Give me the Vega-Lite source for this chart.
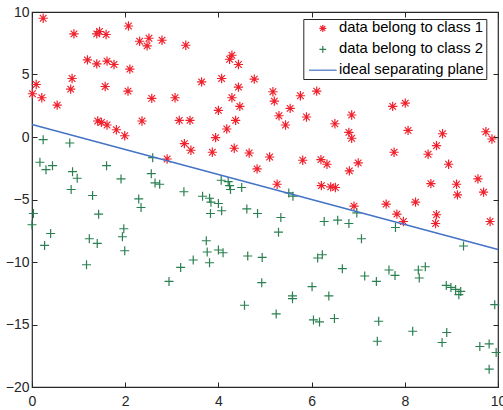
{
  "$schema": "https://vega.github.io/schema/vega-lite/v6.json",
  "width": 466,
  "height": 375,
  "autosize": "none",
  "padding": {"left": 32, "top": 12, "right": 5, "bottom": 23},
  "background": "white",
  "config": {
    "font": "Liberation Sans",
    "view": {"stroke": "#262626", "strokeWidth": 1.2},
    "axis": {
      "grid": false,
      "domain": false,
      "tickSize": -5,
      "tickColor": "#262626",
      "tickWidth": 1,
      "labelFontSize": 14,
      "labelColor": "#262626",
      "labelFont": "Liberation Sans",
      "title": null
    }
  },
  "datasets": {
    "pts": [
      {"x": 0.24, "y": 9.5, "series": "data belong to class 1"},
      {"x": 0.90, "y": 8.25, "series": "data belong to class 1"},
      {"x": 1.39, "y": 8.25, "series": "data belong to class 1"},
      {"x": 1.45, "y": 8.44, "series": "data belong to class 1"},
      {"x": 1.59, "y": 8.2, "series": "data belong to class 1"},
      {"x": 2.07, "y": 8.88, "series": "data belong to class 1"},
      {"x": 2.31, "y": 7.66, "series": "data belong to class 1"},
      {"x": 2.47, "y": 7.29, "series": "data belong to class 1"},
      {"x": 2.51, "y": 7.9, "series": "data belong to class 1"},
      {"x": 2.79, "y": 7.74, "series": "data belong to class 1"},
      {"x": 1.19, "y": 6.17, "series": "data belong to class 1"},
      {"x": 1.39, "y": 5.85, "series": "data belong to class 1"},
      {"x": 1.61, "y": 6.07, "series": "data belong to class 1"},
      {"x": 1.76, "y": 5.8, "series": "data belong to class 1"},
      {"x": 2.10, "y": 5.43, "series": "data belong to class 1"},
      {"x": 0.86, "y": 4.68, "series": "data belong to class 1"},
      {"x": 0.83, "y": 3.83, "series": "data belong to class 1"},
      {"x": 1.57, "y": 4.04, "series": "data belong to class 1"},
      {"x": 2.06, "y": 3.67, "series": "data belong to class 1"},
      {"x": 2.57, "y": 3.09, "series": "data belong to class 1"},
      {"x": 0.09, "y": 4.2, "series": "data belong to class 1"},
      {"x": 0.01, "y": 3.46, "series": "data belong to class 1"},
      {"x": 0.21, "y": 3.14, "series": "data belong to class 1"},
      {"x": 0.54, "y": 2.55, "series": "data belong to class 1"},
      {"x": 1.41, "y": 1.28, "series": "data belong to class 1"},
      {"x": 1.49, "y": 1.17, "series": "data belong to class 1"},
      {"x": 1.61, "y": 0.96, "series": "data belong to class 1"},
      {"x": 1.81, "y": 0.58, "series": "data belong to class 1"},
      {"x": 1.99, "y": 0.10, "series": "data belong to class 1"},
      {"x": 2.36, "y": 1.28, "series": "data belong to class 1"},
      {"x": 2.90, "y": -1.76, "series": "data belong to class 1"},
      {"x": 3.30, "y": 7.34, "series": "data belong to class 1"},
      {"x": 4.29, "y": 6.54, "series": "data belong to class 1"},
      {"x": 4.24, "y": 6.22, "series": "data belong to class 1"},
      {"x": 4.43, "y": 5.8, "series": "data belong to class 1"},
      {"x": 3.64, "y": 4.41, "series": "data belong to class 1"},
      {"x": 4.07, "y": 4.68, "series": "data belong to class 1"},
      {"x": 4.77, "y": 4.63, "series": "data belong to class 1"},
      {"x": 4.43, "y": 3.99, "series": "data belong to class 1"},
      {"x": 3.07, "y": 3.14, "series": "data belong to class 1"},
      {"x": 4.29, "y": 3.14, "series": "data belong to class 1"},
      {"x": 4.46, "y": 2.45, "series": "data belong to class 1"},
      {"x": 5.17, "y": 3.62, "series": "data belong to class 1"},
      {"x": 5.20, "y": 2.87, "series": "data belong to class 1"},
      {"x": 5.76, "y": 3.30, "series": "data belong to class 1"},
      {"x": 6.11, "y": 3.67, "series": "data belong to class 1"},
      {"x": 5.54, "y": 2.29, "series": "data belong to class 1"},
      {"x": 4.0, "y": 2.13, "series": "data belong to class 1"},
      {"x": 5.30, "y": 1.70, "series": "data belong to class 1"},
      {"x": 5.44, "y": 0.96, "series": "data belong to class 1"},
      {"x": 5.89, "y": 1.60, "series": "data belong to class 1"},
      {"x": 3.16, "y": 1.33, "series": "data belong to class 1"},
      {"x": 3.39, "y": 1.33, "series": "data belong to class 1"},
      {"x": 4.37, "y": 1.33, "series": "data belong to class 1"},
      {"x": 4.18, "y": 0.64, "series": "data belong to class 1"},
      {"x": 3.94, "y": -0.05, "series": "data belong to class 1"},
      {"x": 3.27, "y": -0.53, "series": "data belong to class 1"},
      {"x": 3.41, "y": -1.06, "series": "data belong to class 1"},
      {"x": 3.87, "y": -1.22, "series": "data belong to class 1"},
      {"x": 4.34, "y": -0.90, "series": "data belong to class 1"},
      {"x": 4.66, "y": -1.28, "series": "data belong to class 1"},
      {"x": 5.10, "y": -1.60, "series": "data belong to class 1"},
      {"x": 4.83, "y": -2.55, "series": "data belong to class 1"},
      {"x": 5.81, "y": -1.86, "series": "data belong to class 1"},
      {"x": 6.20, "y": -1.81, "series": "data belong to class 1"},
      {"x": 6.33, "y": -2.18, "series": "data belong to class 1"},
      {"x": 5.26, "y": -3.78, "series": "data belong to class 1"},
      {"x": 6.21, "y": -3.89, "series": "data belong to class 1"},
      {"x": 7.74, "y": 2.45, "series": "data belong to class 1"},
      {"x": 8.01, "y": 2.71, "series": "data belong to class 1"},
      {"x": 6.86, "y": 1.76, "series": "data belong to class 1"},
      {"x": 6.50, "y": 1.06, "series": "data belong to class 1"},
      {"x": 6.80, "y": 0.37, "series": "data belong to class 1"},
      {"x": 6.86, "y": -0.10, "series": "data belong to class 1"},
      {"x": 8.07, "y": 0.53, "series": "data belong to class 1"},
      {"x": 8.81, "y": 0.26, "series": "data belong to class 1"},
      {"x": 9.74, "y": 0.42, "series": "data belong to class 1"},
      {"x": 9.87, "y": -0.16, "series": "data belong to class 1"},
      {"x": 7.77, "y": -1.22, "series": "data belong to class 1"},
      {"x": 8.68, "y": -0.69, "series": "data belong to class 1"},
      {"x": 8.50, "y": -1.38, "series": "data belong to class 1"},
      {"x": 8.94, "y": -2.18, "series": "data belong to class 1"},
      {"x": 7.0, "y": -2.07, "series": "data belong to class 1"},
      {"x": 6.81, "y": -2.71, "series": "data belong to class 1"},
      {"x": 6.41, "y": -3.99, "series": "data belong to class 1"},
      {"x": 6.51, "y": -4.04, "series": "data belong to class 1"},
      {"x": 8.56, "y": -3.73, "series": "data belong to class 1"},
      {"x": 9.11, "y": -3.78, "series": "data belong to class 1"},
      {"x": 9.57, "y": -3.35, "series": "data belong to class 1"},
      {"x": 9.69, "y": -4.41, "series": "data belong to class 1"},
      {"x": 9.13, "y": -4.63, "series": "data belong to class 1"},
      {"x": 6.91, "y": -5.53, "series": "data belong to class 1"},
      {"x": 7.60, "y": -5.37, "series": "data belong to class 1"},
      {"x": 8.23, "y": -5.21, "series": "data belong to class 1"},
      {"x": 7.83, "y": -6.17, "series": "data belong to class 1"},
      {"x": 7.97, "y": -6.76, "series": "data belong to class 1"},
      {"x": 8.68, "y": -6.22, "series": "data belong to class 1"},
      {"x": 8.66, "y": -6.92, "series": "data belong to class 1"},
      {"x": 9.83, "y": -6.76, "series": "data belong to class 1"},
      {"x": 0.24, "y": -0.21, "series": "data belong to class 2"},
      {"x": 0.81, "y": -0.48, "series": "data belong to class 2"},
      {"x": 0.17, "y": -2.02, "series": "data belong to class 2"},
      {"x": 0.30, "y": -2.61, "series": "data belong to class 2"},
      {"x": 0.44, "y": -2.29, "series": "data belong to class 2"},
      {"x": 1.60, "y": -2.29, "series": "data belong to class 2"},
      {"x": 0.87, "y": -2.77, "series": "data belong to class 2"},
      {"x": 0.97, "y": -3.30, "series": "data belong to class 2"},
      {"x": 1.91, "y": -3.35, "series": "data belong to class 2"},
      {"x": 2.59, "y": -1.65, "series": "data belong to class 2"},
      {"x": 2.56, "y": -2.93, "series": "data belong to class 2"},
      {"x": 2.64, "y": -3.67, "series": "data belong to class 2"},
      {"x": 2.74, "y": -3.78, "series": "data belong to class 2"},
      {"x": 0.84, "y": -4.2, "series": "data belong to class 2"},
      {"x": 1.30, "y": -4.68, "series": "data belong to class 2"},
      {"x": 2.29, "y": -4.95, "series": "data belong to class 2"},
      {"x": 2.34, "y": -5.64, "series": "data belong to class 2"},
      {"x": 0.03, "y": -6.12, "series": "data belong to class 2"},
      {"x": 0.0, "y": -7.02, "series": "data belong to class 2"},
      {"x": 1.43, "y": -6.17, "series": "data belong to class 2"},
      {"x": 0.40, "y": -7.72, "series": "data belong to class 2"},
      {"x": 0.27, "y": -8.67, "series": "data belong to class 2"},
      {"x": 1.23, "y": -8.14, "series": "data belong to class 2"},
      {"x": 1.40, "y": -8.51, "series": "data belong to class 2"},
      {"x": 1.97, "y": -7.34, "series": "data belong to class 2"},
      {"x": 1.94, "y": -7.98, "series": "data belong to class 2"},
      {"x": 1.99, "y": -9.10, "series": "data belong to class 2"},
      {"x": 1.17, "y": -10.22, "series": "data belong to class 2"},
      {"x": 2.94, "y": -11.55, "series": "data belong to class 2"},
      {"x": 3.26, "y": -4.38, "series": "data belong to class 2"},
      {"x": 3.66, "y": -4.74, "series": "data belong to class 2"},
      {"x": 3.81, "y": -4.9, "series": "data belong to class 2"},
      {"x": 4.06, "y": -3.46, "series": "data belong to class 2"},
      {"x": 4.21, "y": -3.57, "series": "data belong to class 2"},
      {"x": 4.26, "y": -4.2, "series": "data belong to class 2"},
      {"x": 4.24, "y": -3.89, "series": "data belong to class 2"},
      {"x": 4.50, "y": -4.04, "series": "data belong to class 2"},
      {"x": 5.51, "y": -4.47, "series": "data belong to class 2"},
      {"x": 5.60, "y": -4.73, "series": "data belong to class 2"},
      {"x": 3.84, "y": -5.21, "series": "data belong to class 2"},
      {"x": 4.0, "y": -5.32, "series": "data belong to class 2"},
      {"x": 3.83, "y": -6.12, "series": "data belong to class 2"},
      {"x": 4.07, "y": -5.9, "series": "data belong to class 2"},
      {"x": 4.61, "y": -5.75, "series": "data belong to class 2"},
      {"x": 4.84, "y": -6.12, "series": "data belong to class 2"},
      {"x": 5.34, "y": -6.44, "series": "data belong to class 2"},
      {"x": 5.29, "y": -7.61, "series": "data belong to class 2"},
      {"x": 6.27, "y": -6.76, "series": "data belong to class 2"},
      {"x": 3.74, "y": -8.3, "series": "data belong to class 2"},
      {"x": 3.76, "y": -9.2, "series": "data belong to class 2"},
      {"x": 4.0, "y": -9.04, "series": "data belong to class 2"},
      {"x": 4.10, "y": -9.26, "series": "data belong to class 2"},
      {"x": 3.81, "y": -10.06, "series": "data belong to class 2"},
      {"x": 3.46, "y": -9.84, "series": "data belong to class 2"},
      {"x": 3.19, "y": -10.43, "series": "data belong to class 2"},
      {"x": 4.63, "y": -9.52, "series": "data belong to class 2"},
      {"x": 4.94, "y": -9.63, "series": "data belong to class 2"},
      {"x": 4.93, "y": -11.65, "series": "data belong to class 2"},
      {"x": 4.56, "y": -13.46, "series": "data belong to class 2"},
      {"x": 5.24, "y": -14.15, "series": "data belong to class 2"},
      {"x": 5.59, "y": -12.71, "series": "data belong to class 2"},
      {"x": 5.59, "y": -12.93, "series": "data belong to class 2"},
      {"x": 6.01, "y": -11.97, "series": "data belong to class 2"},
      {"x": 6.37, "y": -12.71, "series": "data belong to class 2"},
      {"x": 6.04, "y": -14.63, "series": "data belong to class 2"},
      {"x": 6.17, "y": -14.79, "series": "data belong to class 2"},
      {"x": 6.13, "y": -9.68, "series": "data belong to class 2"},
      {"x": 6.23, "y": -9.42, "series": "data belong to class 2"},
      {"x": 6.56, "y": -6.65, "series": "data belong to class 2"},
      {"x": 6.80, "y": -6.92, "series": "data belong to class 2"},
      {"x": 6.97, "y": -6.07, "series": "data belong to class 2"},
      {"x": 7.80, "y": -7.24, "series": "data belong to class 2"},
      {"x": 7.07, "y": -8.14, "series": "data belong to class 2"},
      {"x": 9.26, "y": -8.72, "series": "data belong to class 2"},
      {"x": 6.66, "y": -10.53, "series": "data belong to class 2"},
      {"x": 7.14, "y": -11.12, "series": "data belong to class 2"},
      {"x": 7.39, "y": -11.55, "series": "data belong to class 2"},
      {"x": 7.66, "y": -10.64, "series": "data belong to class 2"},
      {"x": 7.79, "y": -11.07, "series": "data belong to class 2"},
      {"x": 8.29, "y": -10.64, "series": "data belong to class 2"},
      {"x": 8.31, "y": -11.28, "series": "data belong to class 2"},
      {"x": 8.44, "y": -10.38, "series": "data belong to class 2"},
      {"x": 8.89, "y": -11.87, "series": "data belong to class 2"},
      {"x": 8.99, "y": -12.03, "series": "data belong to class 2"},
      {"x": 9.09, "y": -12.19, "series": "data belong to class 2"},
      {"x": 9.20, "y": -12.35, "series": "data belong to class 2"},
      {"x": 9.16, "y": -12.61, "series": "data belong to class 2"},
      {"x": 9.93, "y": -13.41, "series": "data belong to class 2"},
      {"x": 6.49, "y": -14.52, "series": "data belong to class 2"},
      {"x": 7.44, "y": -14.74, "series": "data belong to class 2"},
      {"x": 7.41, "y": -16.34, "series": "data belong to class 2"},
      {"x": 8.17, "y": -15.54, "series": "data belong to class 2"},
      {"x": 8.90, "y": -15.64, "series": "data belong to class 2"},
      {"x": 8.80, "y": -16.44, "series": "data belong to class 2"},
      {"x": 9.61, "y": -16.76, "series": "data belong to class 2"},
      {"x": 9.81, "y": -16.55, "series": "data belong to class 2"},
      {"x": 9.96, "y": -17.24, "series": "data belong to class 2"},
      {"x": 9.81, "y": -18.57, "series": "data belong to class 2"}
    ],
    "plane": [
      {"x": 0, "y": 1, "series": "ideal separating plane"},
      {"x": 10, "y": -9, "series": "ideal separating plane"}
    ]
  },
  "layer": [
    {
      "data": {"name": "pts"},
      "mark": {"type": "point", "filled": false, "size": 100, "strokeWidth": 1.2, "opacity": 1},
      "encoding": {
        "x": {"field": "x", "type": "quantitative",
          "scale": {"domain": [0, 10], "nice": false, "zero": false},
          "axis": {"orient": "bottom", "values": [0, 2, 4, 6, 8, 10], "labelPadding": 12.5, "labelFlush": false}},
        "y": {"field": "y", "type": "quantitative",
          "scale": {"domain": [-20, 10], "nice": false, "zero": false},
          "axis": {"orient": "left", "values": [-20, -15, -10, -5, 0, 5, 10], "labelPadding": 8, "labelFlush": false}},
        "color": {"field": "series", "type": "nominal",
          "scale": {"domain": ["data belong to class 1", "data belong to class 2", "ideal separating plane"], "range": ["#f0202c", "#2a8050", "#4472c4"]},
          "legend": {"title": null, "orient": "none", "legendX": 271.3, "legendY": 7, "strokeColor": "#262626", "fillColor": "white", "padding": 2, "symbolOffset": 10.1, "labelOffset": 8.8, "labelFontSize": 14.8, "labelColor": "#000000", "rowPadding": 4.9, "symbolSize": 56, "symbolStrokeWidth": 1.2, "labelLimit": 400, "labelExpr": "datum.label + '  '"}},
        "shape": {"field": "series", "type": "nominal",
          "scale": {"domain": ["data belong to class 1", "data belong to class 2", "ideal separating plane"], "range": ["M-0.93,0L0.93,0M0,-0.93L0,0.93M-0.66,-0.66L0.66,0.66M-0.66,0.66L0.66,-0.66", "M-0.9,0L0.9,0M0,-0.9L0,0.9", "M-3.7,0L3.7,0"]},
          "legend": {"title": null, "orient": "none", "legendX": 271.3, "legendY": 7, "strokeColor": "#262626", "fillColor": "white", "padding": 2, "symbolOffset": 10.1, "labelOffset": 8.8, "labelFontSize": 14.8, "labelColor": "#000000", "rowPadding": 4.9, "symbolSize": 56, "symbolStrokeWidth": 1.2, "labelLimit": 400, "labelExpr": "datum.label + '  '"}}
      }
    },
    {
      "data": {"name": "plane"},
      "mark": {"type": "line", "strokeWidth": 1.4},
      "encoding": {
        "x": {"field": "x", "type": "quantitative",
          "axis": {"orient": "top", "values": [0, 2, 4, 6, 8, 10], "labels": false}},
        "y": {"field": "y", "type": "quantitative",
          "axis": {"orient": "right", "values": [-20, -15, -10, -5, 0, 5, 10], "labels": false}},
        "color": {"field": "series", "type": "nominal"}
      }
    }
  ],
  "resolve": {"axis": {"x": "independent", "y": "independent"}}
}
